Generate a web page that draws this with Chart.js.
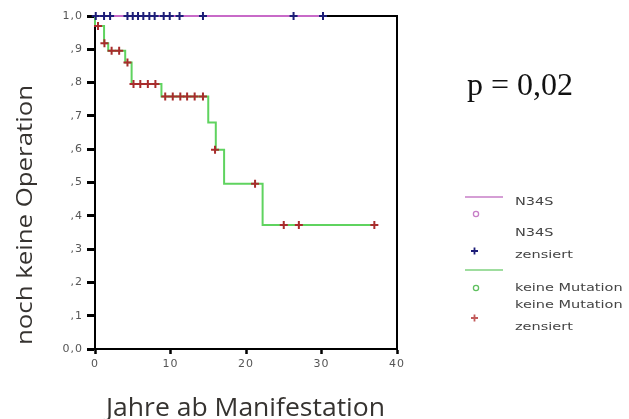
<!DOCTYPE html>
<html>
<head>
<meta charset="utf-8">
<script src="https://cdn.jsdelivr.net/npm/chart.js@4/dist/chart.umd.min.js"></script>
<style>
  html, body { margin: 0; padding: 0; background: #ffffff; }
  #wrap { width: 629px; height: 419px; position: relative; }
</style>
</head>
<body>
<div id="wrap"><canvas id="km"></canvas></div>
<script>
// Kaplan-Meier-Kurven: Zeit bis zur Operation, N34S gegen keine Mutation
const xTickLabels = ['0', '10', '20', '30', '40'];
const yTickLabels = ['0,0', ',1', ',2', ',3', ',4', ',5', ',6', ',7', ',8', ',9', '1,0'];

// N34S: kein Ereignis, die Kurve bleibt bei 1,0
const n34sTimes = [0, 30.2];
const n34sSurv = [1.0, 1.0];
const n34sCensorTimes = [0.1, 1.2, 2.0, 4.3, 5.0, 5.7, 6.4, 7.2, 7.9, 9.1, 9.9, 11.2, 14.3, 26.3, 30.2];
const n34sCensorSurv = [1, 1, 1, 1, 1, 1, 1, 1, 1, 1, 1, 1, 1, 1, 1];

// keine Mutation: Stufen der Kurve
const noMutTimes = [0, 0, 1.2, 1.75, 4.0, 4.85, 8.8, 15.0, 16.0, 17.1, 22.2, 37.0];
const noMutSurv = [1.0, 0.97, 0.918, 0.896, 0.86, 0.796, 0.758, 0.68, 0.598, 0.496, 0.372, 0.372];
const noMutCensorTimes = [0.4, 1.25, 2.2, 3.2, 4.3, 5.1, 6.0, 7.0, 8.0, 9.3, 10.3, 11.3, 12.2, 13.2, 14.3, 15.9, 21.2, 25.0, 27.0, 37.0];
const noMutCensorSurv = [0.97, 0.918, 0.896, 0.896, 0.86, 0.796, 0.796, 0.796, 0.796, 0.758, 0.758, 0.758, 0.758, 0.758, 0.758, 0.598, 0.496, 0.372, 0.372, 0.372];

const legendRows = [
  { kind: 'line', color: '#c77ec7', lines: ['N34S'] },
  { kind: 'circle', color: '#c77ec7', lines: [] },
  { kind: 'plus', color: '#1d1d78', lines: ['N34S', 'zensiert'] },
  { kind: 'line', color: '#7fd27f', lines: [] },
  { kind: 'circle', color: '#5fc05f', lines: ['keine Mutation'] },
  { kind: 'plus', color: '#c25a5a', lines: ['keine Mutation', 'zensiert'] }
];
const pValueText = 'p = 0,02';
const xTitle = 'Jahre ab Manifestation';
const yTitle = 'noch keine Operation';

const zip = (xs, ys) => xs.map((x, i) => ({ x: x, y: ys[i] }));

function fittedText(ctx, text, x, y, width, rot) {
  ctx.save();
  ctx.translate(x, y);
  if (rot) ctx.rotate(rot);
  const w = ctx.measureText(text).width;
  ctx.scale(width / w, 1);
  ctx.textAlign = 'center';
  ctx.textBaseline = 'alphabetic';
  ctx.fillText(text, 0, 0);
  ctx.restore();
}

function wideText(ctx, text, x, y, sx) {
  ctx.save();
  ctx.translate(x, y);
  ctx.scale(sx, 1);
  ctx.textAlign = 'left';
  ctx.textBaseline = 'middle';
  ctx.fillText(text, 0, 0);
  ctx.restore();
}

// frame around the plot area, drawn below the curves
const framePlugin = {
  id: 'frame',
  beforeDraw(chart) {
    chart.ctx.letterSpacing = '1px';
  },
  beforeDatasetsDraw(chart) {
    const { ctx, chartArea: a } = chart;
    ctx.save();
    ctx.strokeStyle = '#000';
    ctx.lineWidth = 2;
    ctx.strokeRect(a.left, a.top, a.right - a.left, a.bottom - a.top);
    ctx.restore();
  },
  afterDraw(chart) {
    const ctx = chart.ctx;
    ctx.save();
    ctx.letterSpacing = '0px';

    // axis titles
    ctx.fillStyle = '#363330';
    ctx.font = '25px "Open Sans"';
    fittedText(ctx, xTitle, 245.5, 416, 279, 0);
    ctx.font = '21px "Open Sans"';
    fittedText(ctx, yTitle, 32, 215, 260, -Math.PI / 2);

    // p-value
    ctx.fillStyle = '#111';
    ctx.font = '32px "Liberation Serif"';
    ctx.textAlign = 'left';
    ctx.textBaseline = 'alphabetic';
    ctx.fillText(pValueText, 467, 95);

    // legend
    const markerY = [197, 214, 251, 270, 288, 318];
    const textY = [[202], [], [233, 255], [], [288], [305, 327]];
    ctx.font = '10px "DejaVu Sans"';
    legendRows.forEach((row, i) => {
      const y = markerY[i];
      ctx.strokeStyle = row.color;
      if (row.kind === 'line') {
        ctx.lineWidth = 1.5;
        ctx.beginPath(); ctx.moveTo(465, y); ctx.lineTo(503, y); ctx.stroke();
      } else if (row.kind === 'circle') {
        ctx.lineWidth = 1.3;
        ctx.beginPath(); ctx.arc(476, y, 2.6, 0, Math.PI * 2); ctx.stroke();
      } else {
        ctx.lineWidth = 1.8;
        ctx.beginPath();
        ctx.moveTo(471, y); ctx.lineTo(478, y);
        ctx.moveTo(474.5, y - 3.5); ctx.lineTo(474.5, y + 3.5);
        ctx.stroke();
      }
      ctx.fillStyle = '#444';
      row.lines.forEach((t, j) => wideText(ctx, t, 515, textY[i][j], 1.45));
    });
    ctx.restore();
  }
};

new Chart(document.getElementById('km'), {
  type: 'line',
  data: {
    datasets: [
      {
        label: 'N34S zensiert',
        data: zip(n34sCensorTimes, n34sCensorSurv),
        showLine: false,
        pointStyle: 'cross',
        pointRadius: 4,
        pointBorderWidth: 2,
        pointBorderColor: '#1d1d78',
        borderColor: '#1d1d78',
        clip: false
      },
      {
        label: 'keine Mutation zensiert',
        data: zip(noMutCensorTimes, noMutCensorSurv),
        showLine: false,
        pointStyle: 'cross',
        pointRadius: 4,
        pointBorderWidth: 2,
        pointBorderColor: '#a82c2c',
        borderColor: '#a82c2c',
        clip: false
      },
      {
        label: 'N34S',
        data: zip(n34sTimes, n34sSurv),
        stepped: 'before',
        borderColor: '#c86ac8',
        borderWidth: 2,
        pointRadius: 0,
        fill: false,
        clip: false
      },
      {
        label: 'keine Mutation',
        data: zip(noMutTimes, noMutSurv),
        stepped: 'before',
        borderColor: '#5fd35f',
        borderWidth: 2,
        pointRadius: 0,
        fill: false,
        clip: false
      }
    ]
  },
  options: {
    responsive: true,
    maintainAspectRatio: false,
    animation: false,
    events: [],
    layout: { padding: { left: 0, right: 232, top: 16, bottom: 0 } },
    plugins: { legend: { display: false }, tooltip: { enabled: false } },
    scales: {
      x: {
        type: 'linear',
        min: 0,
        max: 40,
        afterFit: (s) => { s.height = 70; },
        afterBuildTicks: (s) => { s.ticks = xTickLabels.map((_, i) => ({ value: i * 10 })); },
        ticks: {
          padding: 4,
          color: '#555',
          font: { family: 'DejaVu Sans', size: 11 },
          callback: (v, i) => xTickLabels[i]
        },
        grid: { drawOnChartArea: false, tickLength: 5, tickWidth: 2.5, tickColor: '#000' },
        border: { display: true, color: '#000', width: 2 }
      },
      y: {
        type: 'linear',
        min: 0,
        max: 1,
        afterFit: (s) => { s.width = 95; },
        afterBuildTicks: (s) => { s.ticks = yTickLabels.map((_, i) => ({ value: i / 10 })); },
        ticks: {
          padding: 4,
          color: '#555',
          font: { family: 'DejaVu Sans', size: 11 },
          callback: (v, i) => yTickLabels[i]
        },
        grid: { drawOnChartArea: false, tickLength: 8, tickWidth: 3, tickColor: '#000' },
        border: { display: true, color: '#000', width: 2 }
      }
    }
  },
  plugins: [framePlugin]
});
</script>
</body>
</html>
